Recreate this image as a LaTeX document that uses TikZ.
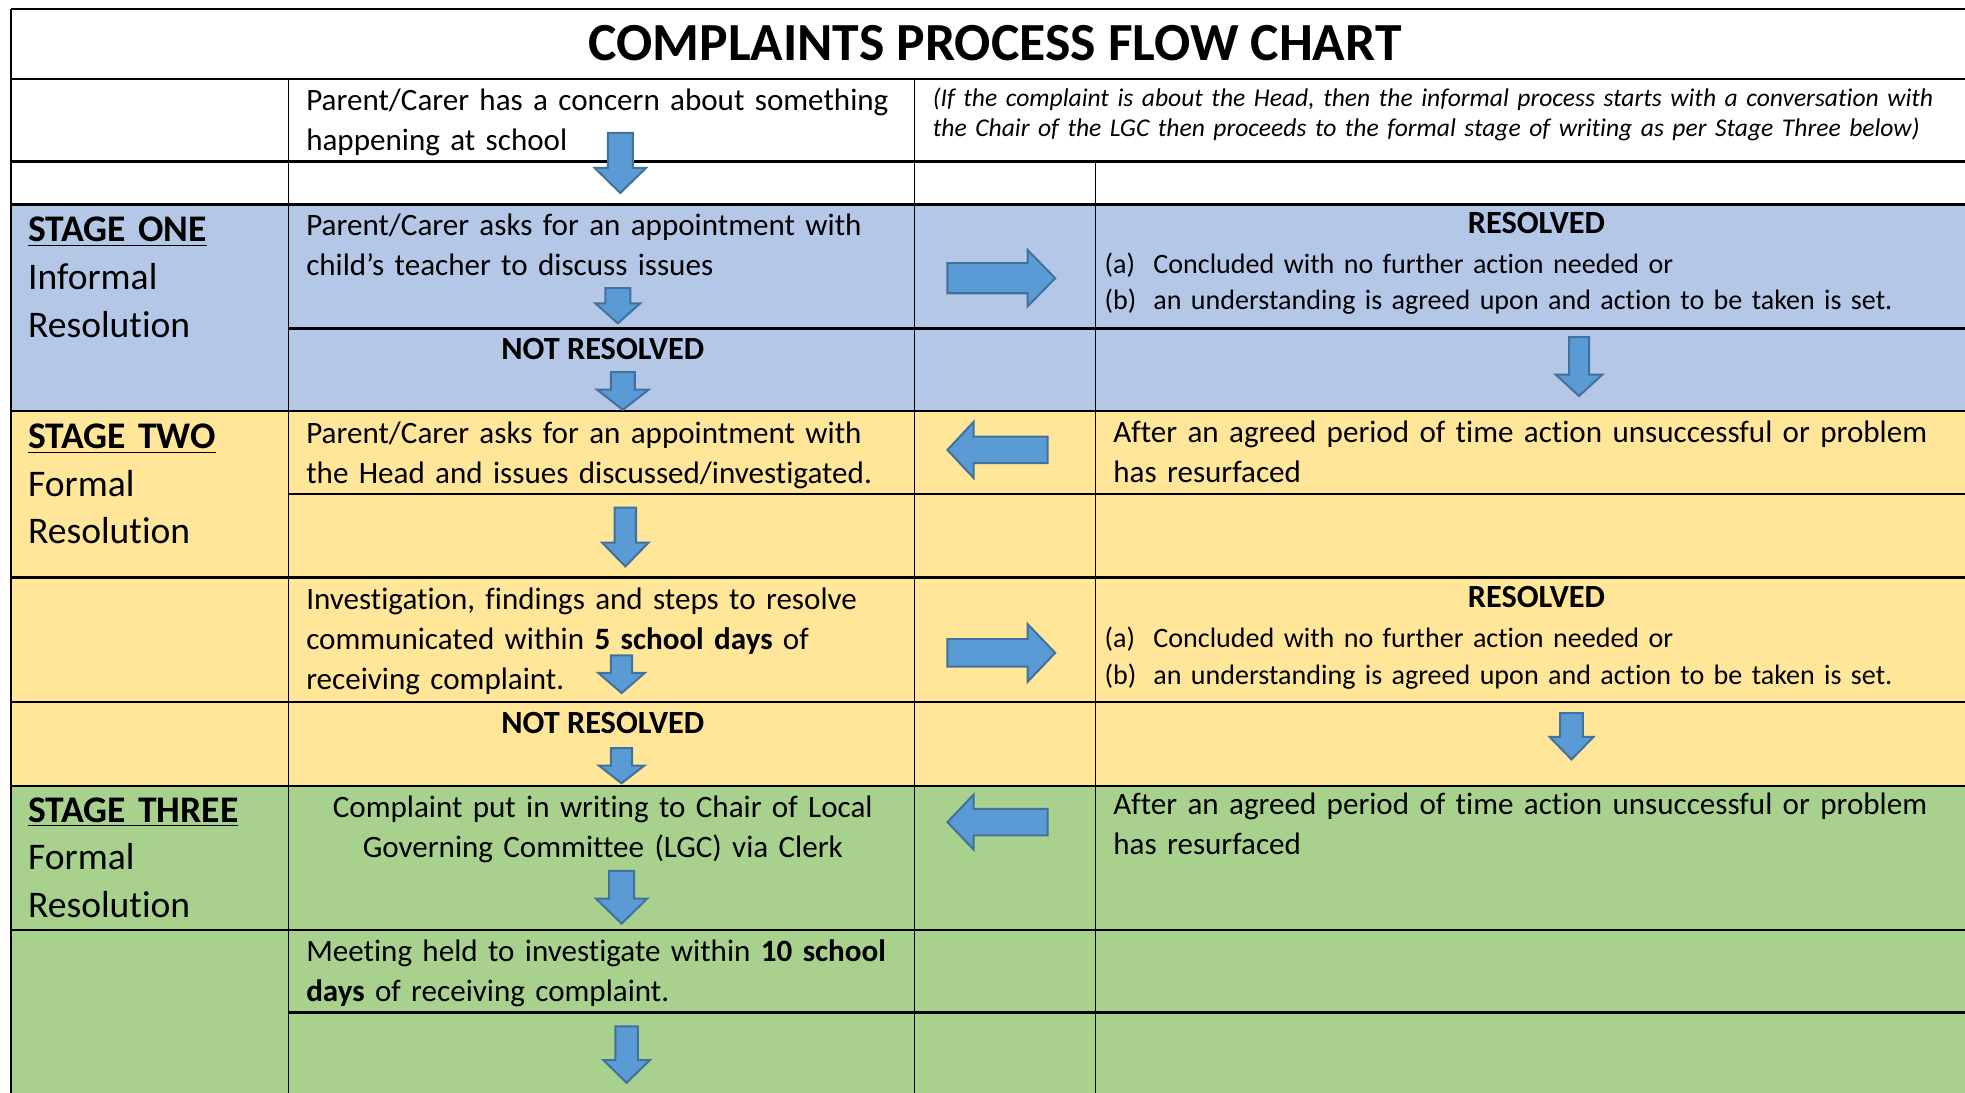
\documentclass[tikz,border=0pt]{standalone}
\usepackage{fontspec}
\setmainfont{Carlito}[Ligatures={NoCommon}]
\usetikzlibrary{positioning}
\definecolor{stageblue}{HTML}{B4C7E7}
\definecolor{stageyellow}{HTML}{FFE699}
\definecolor{stagegreen}{HTML}{A9D18E}
\definecolor{arrowfill}{HTML}{5B9BD5}
\definecolor{arrowline}{HTML}{41719C}
\tikzstyle{txt} = [inner sep=0pt, anchor=base west, align=left,
    text width=340pt, font=\fontsize{12.4}{16}\selectfont]
\tikzstyle{ctr} = [inner sep=0pt, anchor=base, align=center,
    font=\fontsize{12.4}{16}\selectfont]
\tikzstyle{bold} = [inner sep=0pt, anchor=base,
    font=\fontsize{12.9}{16}\selectfont\bfseries]
\tikzstyle{small} = [inner sep=0pt, anchor=base west, align=left,
    text width=340pt, font=\fontsize{11.2}{14.5}\selectfont]
\tikzstyle{stage} = [inner sep=0pt, anchor=base west, align=left,
    text width=100pt, font=\fontsize{15}{19}\selectfont]
\tikzstyle{blockarrow} = [fill=arrowfill, draw=arrowline, line width=0.8pt]
\tikzstyle{hline} = [line width=1pt]
\tikzstyle{vline} = [line width=0.5pt]

% down arrow: x, top, tip, shaft width, head width, head length
\newcommand{\downblock}[6]{%
  \draw[blockarrow] ({#1-#4/2},#2) -- ({#1+#4/2},#2) -- ({#1+#4/2},{#3-#6})
    -- ({#1+#5/2},{#3-#6}) -- (#1,#3) -- ({#1-#5/2},{#3-#6})
    -- ({#1-#4/2},{#3-#6}) -- cycle;}
% side arrow: tail x, tip x, y, shaft height, head height, head length (signed)
\newcommand{\sideblock}[6]{%
  \draw[blockarrow] (#1,{#3-#4/2}) -- ({#2-#6},{#3-#4/2}) -- ({#2-#6},{#3-#5/2})
    -- (#2,#3) -- ({#2-#6},{#3+#5/2}) -- ({#2-#6},{#3+#4/2})
    -- (#1,{#3+#4/2}) -- cycle;}
\newcommand{\itm}[1]{\makebox[19.5pt][l]{#1}}

\begin{document}
\begin{tikzpicture}[x=0.5pt, y=-0.5pt]
\useasboundingbox (0,0) rectangle (1568,872);

% stage bands
\fill[stageblue] (9,163) rectangle (1568,328);
\fill[stageyellow] (9,328) rectangle (1568,627);
\fill[stagegreen] (9,627) rectangle (1568,872);

% grid
\draw[hline] (9,7) -- (1568,7);
\draw[hline] (9,63) -- (1568,63);
\draw[hline] (9,129) -- (1568,129);
\draw[hline] (9,163) -- (1568,163);
\draw[hline] (230,262) -- (1568,262);
\draw[hline] (9,328) -- (1568,328);
\draw[hline] (230,394) -- (1568,394);
\draw[hline] (9,461) -- (1568,461);
\draw[hline] (9,560) -- (1568,560);
\draw[hline] (9,627) -- (1568,627);
\draw[hline] (9,742) -- (1568,742);
\draw[hline] (230,808) -- (1568,808);
\draw[line width=0.8pt] (9,7) -- (9,872);
\draw[vline] (230,63) -- (230,872);
\draw[vline] (730,63) -- (730,872);
\draw[vline] (874,129) -- (874,872);

% arrows
\downblock{495}{106}{154}{20}{41}{20}
\downblock{493}{230}{258}{20}{36}{16}
\downblock{497}{297}{327}{19}{41}{16}
\downblock{1260}{269}{316}{16}{37}{17}
\downblock{499}{405}{452}{17}{37}{19}
\downblock{496}{523}{553}{17}{37}{16}
\downblock{496}{597}{625}{17}{36}{14}
\downblock{1254}{569}{606}{18}{35}{18}
\downblock{496}{695}{737}{20}{41}{20}
\downblock{500}{819}{864}{18}{37}{18}
\sideblock{756}{842}{222}{24}{45}{22}
\sideblock{836}{756}{359}{21}{45}{-21}
\sideblock{756}{842}{521}{22}{46}{22}
\sideblock{836}{756}{656}{21}{44}{-21}

% texts
\node[inner sep=0pt, anchor=base, font=\fontsize{21.4}{25}\selectfont\bfseries]
  (title) at (794,48) {COMPLAINTS PROCESS FLOW CHART};
\node[txt] (concern) at (244,88) {Parent/Carer has a concern about something\\happening at school};
\node[small, text width=420pt, font=\fontsize{10.2}{12}\selectfont\itshape] (headnote) at (744,85)
  {(If the complaint is about the Head, then the informal process starts with a conversation with\\the Chair of the LGC then proceeds to the formal stage of writing as per Stage Three below)};

\node[stage] (stageone) at (22,193) {\underline{\textbf{STAGE ONE}}\\Informal\\Resolution};
\node[txt] (teacher) at (244,188) {Parent/Carer asks for an appointment with\\child’s teacher to discuss issues};
\node[bold] (notres1) at (481,287) {NOT RESOLVED};
\node[bold] (resolved1) at (1226,186) {RESOLVED};
\node[small] (options1) at (881,218) {\itm{(a)}Concluded with no further action needed or\\\itm{(b)}an understanding is agreed upon and action to be taken is set.};

\node[stage] (stagetwo) at (22,358) {\underline{\textbf{STAGE TWO}}\\Formal\\Resolution};
\node[txt] (headmeet) at (244,354) {Parent/Carer asks for an appointment with\\the Head and issues discussed/investigated.};
\node[txt] (after1) at (888,353) {After an agreed period of time action unsuccessful or problem\\has resurfaced};
\node[txt] (invest) at (244,486) {Investigation, findings and steps to resolve\\communicated within \textbf{5 school days} of\\receiving complaint.};
\node[bold] (resolved2) at (1226,485) {RESOLVED};
\node[small] (options2) at (881,517) {\itm{(a)}Concluded with no further action needed or\\\itm{(b)}an understanding is agreed upon and action to be taken is set.};
\node[bold] (notres2) at (481,585) {NOT RESOLVED};

\node[stage] (stagethree) at (22,656) {\underline{\textbf{STAGE THREE}}\\Formal\\Resolution};
\node[ctr, text width=240pt] (writing) at (481,652) {Complaint put in writing to Chair of Local\\Governing Committee (LGC) via Clerk};
\node[txt] (after2) at (888,650) {After an agreed period of time action unsuccessful or problem\\has resurfaced};
\node[txt] (meeting) at (244,767) {Meeting held to investigate within \textbf{10 school}\\\textbf{days} of receiving complaint.};
\end{tikzpicture}
\end{document}
